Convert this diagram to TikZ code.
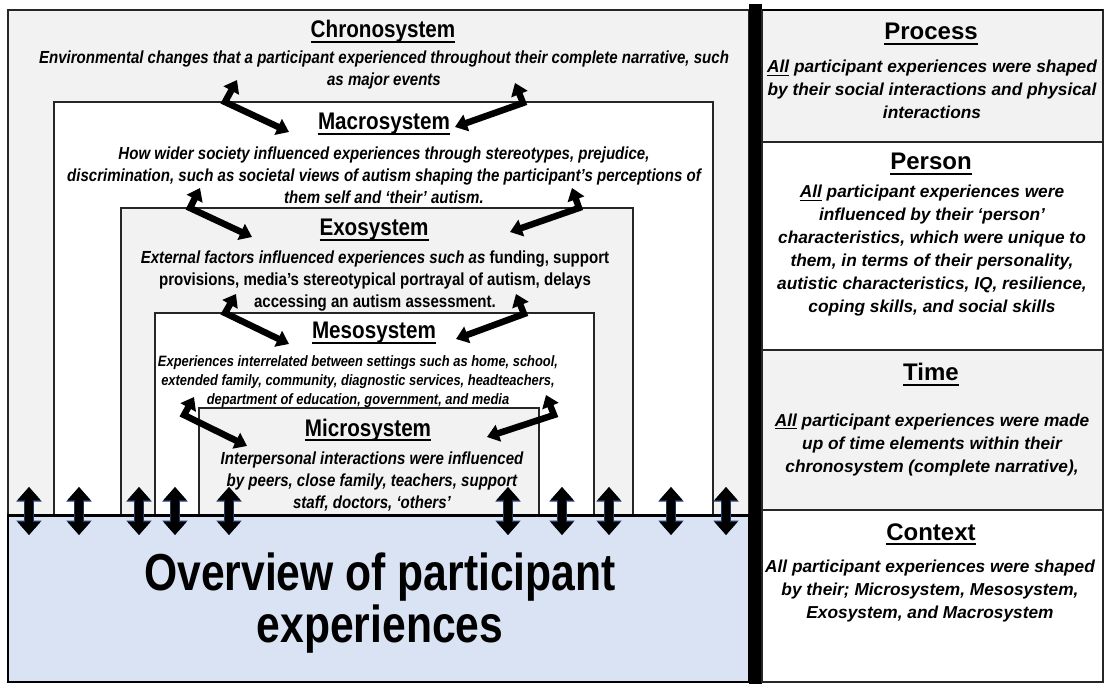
\documentclass[tikz,border=0pt]{standalone}
\usepackage{fontspec}
\setmainfont{Liberation Sans}
\newfontfamily\narrow[FakeStretch=0.82]{Liberation Sans}
\newfontfamily\narrowd[FakeStretch=0.86]{Liberation Sans}
\usepackage{xcolor}
\usepackage{tikz}
\usetikzlibrary{positioning, arrows.meta}

\definecolor{boxgray}{HTML}{F2F2F2}
\definecolor{overblue}{HTML}{DAE3F3}
\definecolor{arrownavy}{HTML}{1F3864}

% underlined heading word
\newcommand{\ulx}[1]{\setbox0=\hbox{#1}\rlap{\rule[-0.2em]{\wd0}{0.065em}}\box0\relax}

\begin{document}
\begin{tikzpicture}[x=1pt, y=-1pt,
    sysbox/.style={draw=black!85, line width=1.2pt, anchor=north west, inner sep=0pt, outer sep=0pt},
    ttl/.style={anchor=base, font=\narrowd\bfseries\fontsize{24}{28}\selectfont},
    desc/.style={anchor=base, align=center, font=\narrowd\bfseries\itshape\fontsize{17.5}{22}\selectfont},
    rttl/.style={anchor=base, font=\bfseries\fontsize{24}{28}\selectfont},
    rdesc/.style={anchor=base, align=center, font=\bfseries\itshape\fontsize{17.3}{23}\selectfont},
    elbow/.style={line width=6.5pt, line join=miter, {Triangle[width=17pt,length=12pt]}-{Triangle[width=17pt,length=12pt]}},
    updown/.style={line width=8pt, {Triangle[width=22pt,length=13pt]}-{Triangle[width=22pt,length=13pt]}},
    updownrim/.style={arrownavy, line width=9.5pt, {Triangle[width=24.5pt,length=14.5pt]}-{Triangle[width=24.5pt,length=14.5pt]}}]
      \useasboundingbox (0,0) rectangle (1106,684);

      % Nested systems
      \node[sysbox, fill=boxgray, line width=1.8pt, minimum width=741pt, minimum height=505pt] (chrono) at (8,10) {};
      \node[sysbox, fill=white, minimum width=659pt, minimum height=413pt] (macro) at (54,102) {};
      \node[sysbox, fill=boxgray, minimum width=512pt, minimum height=307pt] (exo) at (121,208) {};
      \node[sysbox, fill=white, minimum width=439pt, minimum height=202pt] (meso) at (155,313) {};
      \node[sysbox, fill=boxgray, minimum width=340pt, minimum height=107pt] (micro) at (199,408) {};

      % Overview
      \node[sysbox, fill=overblue, draw=black, line width=1.8pt, minimum width=741pt, minimum height=167pt] (overview) at (8,515) {};
      \draw[line width=3pt] (overview.north west) -- (overview.north east);

      % Divider and right panel
      \node[sysbox, fill=black, draw=none, minimum width=13pt, minimum height=680pt] (bar) at (749,4) {};
      \node[sysbox, fill=boxgray, minimum width=341pt, minimum height=132pt] (process) at (762,10) {};
      \node[sysbox, fill=white, minimum width=341pt, minimum height=208pt] (person) at (762,142) {};
      \node[sysbox, fill=boxgray, minimum width=341pt, minimum height=160pt] (time) at (762,350) {};
      \node[sysbox, fill=white, minimum width=341pt, minimum height=172pt] (context) at (762,510) {};
      \draw[line width=2.2pt] (process.north west) -- (process.north east);

      % Left texts (base = last line)
      \node[ttl] (chronoT) at (383,38) {\ulx{Chronosystem}};
      \node[desc] (chronoD) at (384,86) {Environmental changes that a participant experienced throughout their complete narrative, such\\as major events};

      \node[ttl] (macroT) at (384,130) {\ulx{Macrosystem}};
      \node[desc] (macroD) at (384,204) {How wider society influenced experiences through stereotypes, prejudice,\\discrimination, such as societal views of autism shaping the participant’s perceptions of\\them self and ‘their’ autism.};

      \node[ttl] (exoT) at (374,236) {\ulx{Exosystem}};
      \node[desc] (exoD) at (375,308) {External factors influenced experiences such as {\upshape funding, support}\\{\upshape provisions, media’s stereotypical portrayal of autism, delays}\\{\upshape accessing an autism assessment.}};

      \node[ttl] (mesoT) at (374,339) {\ulx{Mesosystem}};
      \node[desc, font=\narrowd\bfseries\itshape\fontsize{15}{19}\selectfont] (mesoD) at (358,405) {Experiences interrelated between settings such as home, school,\\extended family, community, diagnostic services, headteachers,\\department of education, government, and media};

      \node[ttl] (microT) at (368,436) {\ulx{Microsystem}};
      \node[desc, font=\narrowd\bfseries\itshape\fontsize{17.5}{22}\selectfont] (microD) at (372,508) {Interpersonal interactions were influenced\\by peers, close family, teachers, support\\staff, doctors, ‘others’};

      \node[anchor=base, align=center, font=\narrow\bfseries\fontsize{52}{52}\selectfont] (overT) at (380,642) {Overview of participant\\experiences};

      % Right texts
      \node[rttl] (processT) at (931,40) {\ulx{Process}};
      \node[rdesc] (processD) at (932,119) {\ulx{All} participant experiences were shaped\\by their social interactions and physical\\interactions};

      \node[rttl] (personT) at (931,170) {\ulx{Person}};
      \node[rdesc] (personD) at (932,313) {\ulx{All} participant experiences were\\influenced by their ‘person’\\characteristics, which were unique to\\them, in terms of their personality,\\autistic characteristics, IQ, resilience,\\coping skills, and social skills};

      \node[rttl] (timeT) at (931,381) {\ulx{Time}};
      \node[rdesc] (timeD) at (932,472) {\ulx{All} participant experiences were made\\up of time elements within their\\chronosystem (complete narrative),};

      \node[rttl] (contextT) at (931,540) {\ulx{Context}};
      \node[rdesc] (contextD) at (930,618) {All participant experiences were shaped\\by their; Microsystem, Mesosystem,\\Exosystem, and Macrosystem};

      % Elbow arrows between systems
      \coordinate (a1) at (237,80);  \coordinate (b1) at (225,102); \coordinate (c1) at (289,132);
      \coordinate (a2) at (515,83);  \coordinate (b2) at (523,103); \coordinate (c2) at (455,127);
      \coordinate (a3) at (200,188); \coordinate (b3) at (190,208); \coordinate (c3) at (252,237);
      \coordinate (a4) at (572,188); \coordinate (b4) at (579,208); \coordinate (c4) at (510,232);
      \coordinate (a5) at (236,294); \coordinate (b5) at (225,313); \coordinate (c5) at (289,344);
      \coordinate (a6) at (516,294); \coordinate (b6) at (524,314); \coordinate (c6) at (456,339);
      \coordinate (a7) at (194,397); \coordinate (b7) at (184,415); \coordinate (c7) at (247,446);
      \coordinate (a8) at (546,395); \coordinate (b8) at (554,415); \coordinate (c8) at (487,437);
      \foreach \i in {1,...,8}
        \draw[elbow] (a\i) -- (b\i) -- (c\i);

      % Arrows into the overview
      \foreach \x [count=\i] in {29,79,139,175,229,508,562,609,671,726} {
        \coordinate (u\i) at (\x,487);
        \coordinate (d\i) at (\x,535);
        \draw[updownrim] (u\i) -- (d\i);
        \draw[updown] (u\i) -- (d\i);
      }
\end{tikzpicture}
\end{document}
